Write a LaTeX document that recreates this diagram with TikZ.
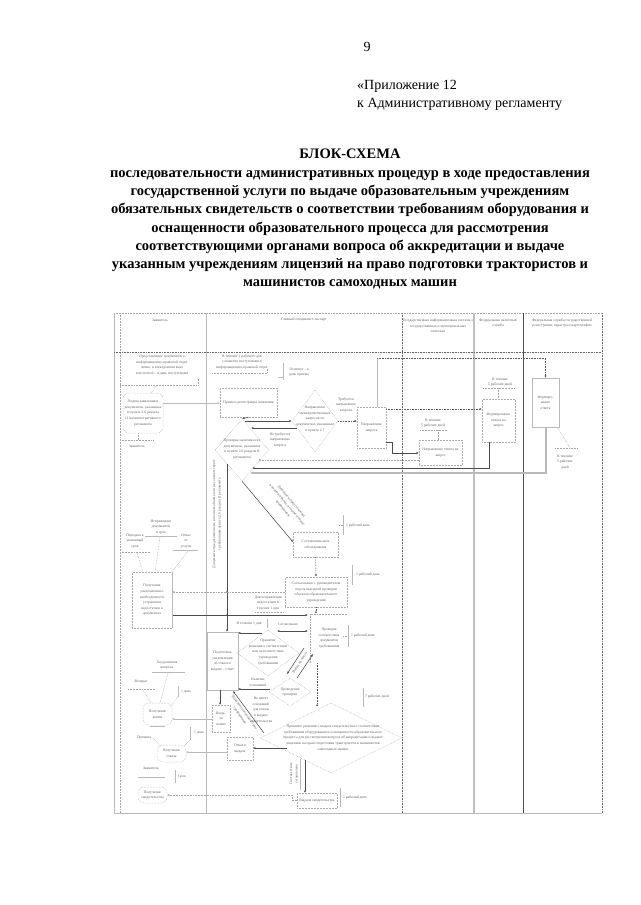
\documentclass[tikz,border=0pt]{standalone}
\usepackage{fontspec}
\setmainfont{Liberation Serif}
\usetikzlibrary{arrows.meta,shapes.geometric}
\tikzset{
  tx/.style={font=\fontsize{3.7}{5.6}\selectfont, text=black!62, align=center, inner sep=0pt},
  dbox/.style={draw=gray!65, densely dotted, line width=0.5pt, tx},
  sbox/.style={draw=gray!55, line width=0.6pt, tx},
  rbox/.style={draw=gray!65, densely dotted, line width=0.5pt, rounded corners=6pt, tx},
  dia/.style={diamond, draw=gray!65, densely dotted, line width=0.5pt, inner sep=0pt},
  dk/.style={draw=black!70, line width=0.55pt},
  gl/.style={draw=gray!55, line width=0.6pt},
  dl/.style={draw=gray!70, densely dotted, line width=0.55pt},
  ddl/.style={draw=black!65, densely dotted, line width=0.6pt},
  arr/.style={-{Latex[length=2.4pt,width=2.2pt]}},
  darr/.style={{Latex[length=2.4pt,width=2.2pt]}-{Latex[length=2.4pt,width=2.2pt]}},
}
\begin{document}
\begin{tikzpicture}[x=1pt,y=-1pt]
\useasboundingbox (0,0) rectangle (640,905);
\fill[white] (0,0) rectangle (640,905);

% ---------- page header ----------
\node[font=\fontsize{14}{16}\selectfont] (pg) at (367,47) {9};
\node[font=\fontsize{14}{18}\selectfont, anchor=north west, align=left, inner sep=0pt] (app) at (357,80) {«Приложение 12\\к Административному регламенту};
\node[font=\bfseries\fontsize{14.5}{18.3}\selectfont, anchor=north, align=center, inner sep=0pt] (ttl) at (350,149) {БЛОК-СХЕМА\\последовательности административных процедур в ходе предоставления\\государственной услуги по выдаче образовательным учреждениям\\обязательных свидетельств о соответствии требованиям оборудования и\\оснащенности образовательного процесса для рассмотрения\\соответствующими органами вопроса об аккредитации и выдаче\\указанным учреждениям лицензий на право подготовки трактористов и\\машинистов самоходных машин};

% ---------- frame ----------
\draw[dl] (114,313) -- (602,313);
\draw[gray!55, line width=0.8pt] (114,313) -- (114,813);
\draw[dl] (120,313) -- (120,813);
\draw[gray!55, line width=0.8pt] (206,313) -- (206,813);
\draw[black!60, densely dotted, line width=0.6pt] (402,313) -- (402,813);
\draw[gray!50, line width=1.6pt] (474,313) -- (474,813);
\draw[black!70, line width=0.6pt] (523,313) -- (523,813);
\draw[black!60, densely dotted, line width=0.6pt] (602,313) -- (602,813);
\draw[black!60, densely dotted, line width=0.6pt] (114,352) -- (602,352);
\draw[gray!55, line width=0.9pt] (114,813) -- (602,813);

\node[tx] (h1) at (160,320) {Заявитель};
\node[tx] (h2) at (304,320) {Главный специалист-эксперт};
\node[tx] (h3) at (438,326) {Государственная информационная система о\\государственных и муниципальных\\платежах};
\node[tx] (h4) at (498,323) {Федеральная налоговая\\служба};
\node[tx] (h5) at (562,323) {Федеральная служба государственной\\регистрации, кадастра и картографии};

% ---------- column 1, top ----------
\node[tx] (ta1) at (162,365) {Представление документов в\\информационно-правовой отдел\\лично, в электронном виде\\или почтой – в день поступления};
\draw[dl] (120,385) -- (198,385) -- (198,379);
\draw[dl] (157,385) -- (151,393);
\node[rbox, minimum width=40pt, minimum height=40pt] (s1) at (143,413) {Подача заявления и\\документов, указанных\\в пункте 2.6 раздела\\II Административного\\регламента};
\draw[dl] (138,433) -- (138,440);
\draw[dl] (120,440) -- (153,440);
\node[tx] (tz) at (137,446) {Заявитель};

% ---------- column 2 ----------
\node[tx] (ta2) at (242,362) {В течение 1 рабочего дня\\с момента поступления в\\информационно-правовой отдел};
\draw[dl] (212,373) -- (267,373) -- (267,369);
\draw[gl] (283,363) -- (283,380);
\draw[gl] (278,377) -- (283,377);
\node[tx] (tbr1) at (299,372) {10 минут – в\\день приема};
\node[dbox, minimum width=57pt, minimum height=29pt] (b1) at (248.5,402.5) {Прием и регистрация заявления};
\draw[gl,arr] (163,403) -- (220,403);

\node[dia, minimum width=54pt, minimum height=62pt] (d1) at (242,450) {};
\node[tx] (td1) at (242,449) {Проверка наличия всех\\документов, указанных\\в пункте 2.6 раздела II\\регламента};
\draw[dk,arr] (b1.south) -- (d1.north);

\node[dia, minimum width=46pt, minimum height=62pt] (d2) at (315,421) {};
\node[tx] (td2) at (315,419) {Направление\\межведомственных\\запросов по\\документам, указанным\\в пункте 2.7};
\draw[dk,arr] (245,421) -- (d2.west);
\draw[dk,arr] (297,428) -- (251,428);
\node[tx] (tl1) at (280,440) {Не требуется\\направление\\запроса};
\node[tx] (tl2) at (346,405) {Требуется\\направление\\запроса};

\node[dbox, minimum width=29pt, minimum height=41pt] (b2) at (371.5,427.5) {Направление\\запроса};
\draw[ddl,arr] (d2.east) -- (357,421);
\draw[gl] (377,407) -- (377,358);
\draw[ddl,arr] (377,358) -- (545.5,358) -- (545.5,378);
\draw[ddl,arr] (386,409) -- (482,409);
\draw[dk,arr] (386,442) -- (392,442) -- (392,453) -- (419,453);

% ---------- column 3 ----------
\node[tx] (ta3) at (433,423) {В течение\\5 рабочих дней};
\draw[dl] (420,430) -- (447,430);
\draw[dl] (438,430) -- (438,440);
\node[dbox, minimum width=43pt, minimum height=25pt] (c3) at (440.5,452.5) {Направление ответа на\\запрос};
\draw[dl,arr] (419,460) -- (258,460);

% ---------- column 4 ----------
\node[tx] (ta4) at (500,382) {В течение\\5 рабочих дней};
\draw[dl] (483,388) -- (515,388);
\draw[dl] (498,388) -- (498,399);
\node[dbox, minimum width=33pt, minimum height=43pt] (c4) at (498.5,420.5) {Формирование\\ответа на\\запрос};
\draw[dk,arr] (489,442) -- (489,468) -- (252,468);

% ---------- column 5 ----------
\node[sbox, minimum width=27pt, minimum height=49pt] (c5) at (545.5,402.5) {Формиро-\\вание\\ответа};
\draw[gray!55, line width=1.1pt, arr] (546,427) -- (546,473) -- (250,473);
\draw[dl] (558,428) -- (570,448);
\draw[dl] (555,448) -- (577,448);
\node[tx] (ta5) at (565,462) {В течение\\5 рабочих\\дней};

% ---------- middle of column 2 ----------
\draw[dk,arr] (d1.south) -- (293,542);
\node[tx, rotate=-50] (tdg0) at (287,505) {Документы представлены\\в полном объеме и соответствуют\\требованиям};
\node[dbox, minimum width=45pt, minimum height=25pt] (b3) at (315.5,544.5) {Составление акта\\обследования};
\draw[gl] (343,515) -- (343,535);
\draw[dl] (339,525) -- (343,525);
\node[tx] (ta6) at (358,526) {1 рабочий день};
\node[dbox, minimum width=62pt, minimum height=30pt] (b4) at (316,592) {Согласование с руководителем\\отдела выездной проверки\\объектов образовательного\\учреждения};
\draw[ddl,arr] (b3.south) -- (b4.north);
\draw[gl] (352,565) -- (352,585);
\node[tx] (ta7) at (368,575) {1 рабочий день};

\draw[dk,arr] (227,464) -- (227,632);
\node[tx, rotate=90] (tv) at (217,514) {Документы представлены не в полном объеме или не соответствуют\\требованиям пункта 2.6 раздела II регламента};
\fill[black!70] (227,592) circle (0.9);
\fill[black!70] (227,615) circle (0.9);
\draw[dl,arr] (b4.west) -- (172,592);
\node[tx] (tl3) at (268,603) {Для исправления\\недостатков в\\течение 1 дня};
\draw[dl] (255,612) -- (283,612);
\draw[dk,arr] (172,615) -- (308,615);
\draw[ddl,arr] (b4.south) -- (316,614);

\draw[dl] (347,614) -- (310,614) -- (310,663);
\node[tx] (tpr) at (329,638) {Проверка\\соответствия\\документов\\требованиям};
\draw[gl] (348,625) -- (348,647);
\draw[dl] (343,636) -- (348,636);
\node[tx] (ta10) at (363,636) {1 рабочий день};
\draw[ddl,arr] (317,663) -- (317,707);

\node[tx] (tv1) at (249,624) {В течение 1 дня};
\draw[gl] (267,619) -- (267,628);
\node[tx] (tsg) at (288,624) {Согласовано};

\node[sbox, minimum width=31pt, minimum height=58pt] (b5) at (222.5,661) {Подготовка\\уведомления\\об отказе в\\выдаче – ответ};
\node[dia, minimum width=62pt, minimum height=46pt] (d4) at (268,653) {};
\node[tx] (td4) at (268,652) {Принятие\\решения о соответствии\\или несоответствии\\учреждения\\требованиям};
\draw[dk,arr] (262,633) -- (238,633);
\draw[dk,line width=0.8pt,darr] (277,631) -- (308,631);

\draw[dk,arr] (304,648) -- (287,674);
\draw[dk,arr] (297,678) -- (313,654);
\node[tx, rotate=57] (tdg1) at (300,663) {Выезд на место};

\node[dia, minimum width=42pt, minimum height=28pt] (d5) at (290,692) {};
\node[tx] (td5) at (290,692) {Проведение\\проверки};
\draw[dk,arr] (270,689) -- (238,689);
\node[tx] (tl4) at (258,682) {Наличие\\оснований};
\node[tx] (tl5) at (261,710) {Не имеет\\оснований\\для отказа\\в выдаче\\свидетельства};

\node[dbox, minimum width=18pt, minimum height=27pt] (b6) at (221,718.5) {Выда-\\ча\\копии};
\draw[dk,arr] (220,690) -- (220,705);
\draw[gl,arr] (212,719) -- (172,719);

\node[dia, minimum width=142pt, minimum height=70pt] (d3) at (331,738) {};
\node[tx] (td3) at (333,738) {Принятие решения о выдаче свидетельства о соответствии\\требованиям оборудования и оснащенности образовательного\\процесса для рассмотрения вопроса об аккредитации и выдаче\\лицензии на право подготовки трактористов и машинистов\\самоходных машин};
\draw[gl] (363,688) -- (363,707);
\node[tx] (ta8) at (377,697) {7 рабочих дней};

\draw[dk,arr] (264,733) -- (233,691);
\node[tx, rotate=-54] (tdg2) at (242,714) {Выявлено несоответствие\\требованиям};

\node[dbox, minimum width=26pt, minimum height=23pt] (b7) at (240,748.5) {Отказ в\\выдаче};
\draw[dk,arr] (287,748) -- (253,748);
\draw[gl,arr] (227,752) -- (186,752);

\draw[gl] (300,759) -- (300,790);
\draw[dk,arr] (305,760) -- (305,793);
\node[tx, rotate=90] (tv2) at (294,774) {Соответствие\\установлено};
\node[dbox, minimum width=40pt, minimum height=15pt] (b8) at (317,800.5) {Выдача свидетельства};
\draw[gl] (340,788) -- (340,807);
\node[tx] (ta9) at (355,798) {1 рабочий день};
\draw[dl,arr] (297,800) -- (292,800) -- (292,795) -- (167,795);

% ---------- column 1, lower ----------
\node[tx] (tc1) at (161,527) {Исправление\\документов\\в срок};
\draw[gl] (145,536) -- (177,536);
\node[tx] (tc2) at (135,541) {Передача в\\указанный\\срок};
\draw[dl] (120,552) -- (150,552);
\node[tx] (tc3) at (186,541) {Отказ\\от\\услуги};
\draw[gl] (173,550) -- (198,550);
\draw[dl] (137,553) -- (143,572);
\draw[dl] (160,537) -- (155,572);
\draw[dl] (188,551) -- (172,572);
\node[dbox, minimum width=40pt, minimum height=56pt] (c1a) at (152,600) {Получение\\уведомления о\\необходимости\\устранения\\недостатков в\\документах};
\draw[gl] (172,572) -- (172,628);

\node[tx] (tc4) at (167,665) {Ход решения\\вопроса};
\draw[gl] (152,672) -- (185,672);
\node[tx] (tc5) at (141,682) {Возврат};
\draw[dl] (128,689) -- (155,689);
\draw[gl] (178,686) -- (178,697);
\node[tx] (tc6) at (186,692) {1 день};
\draw[dl] (143,690) -- (151,703);
\draw[dl] (168,673) -- (160,703);
\draw[dl] (178,697) -- (170,707);
\node[rbox, minimum width=29pt, minimum height=22pt] (s2) at (157.5,714) {Получение\\копии};
\draw[gl] (150,726) -- (165,726);
\node[tx] (tc7) at (144,738) {Причина};
\draw[dl] (153,738) -- (160,746);
\draw[gl] (190,727) -- (190,740);
\node[tx] (tc8) at (199,733) {1 день};
\draw[dl] (190,740) -- (184,746);
\node[rbox, minimum width=29pt, minimum height=17pt] (s3) at (171.5,753.5) {Получение\\отказа};
\node[tx] (tc9) at (151,768) {Заявитель};
\draw[gl] (138,777) -- (165,777);
\draw[gl] (175,770) -- (175,783);
\node[tx] (tc10) at (182,777) {Срок};
\node[rbox, minimum width=29pt, minimum height=16pt] (s4) at (152.5,795) {Получение\\свидетельства};
\end{tikzpicture}
\end{document}
